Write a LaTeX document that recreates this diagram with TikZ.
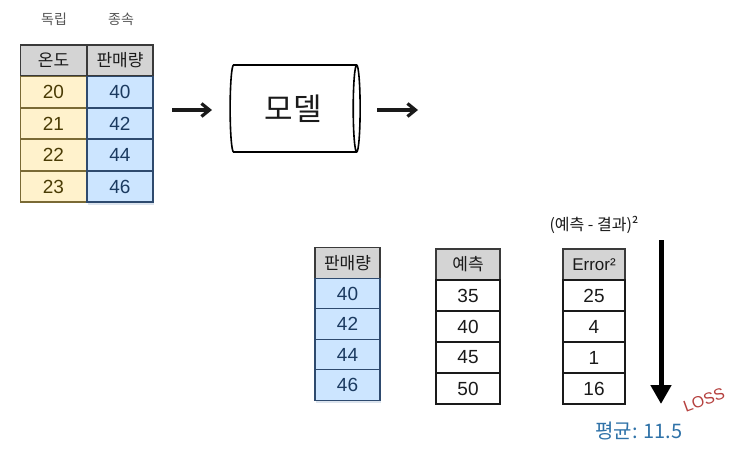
\documentclass[tikz,border=0pt]{standalone}
\usepackage{fontspec}
\setmainfont{Liberation Sans}
\newfontfamily\kr{Noto Sans CJK KR}
\usetikzlibrary{arrows.meta,shapes.geometric}
\definecolor{ink}{HTML}{1A1A1A}
\definecolor{hdrgray}{HTML}{D4D4D4}
\definecolor{hdrline}{HTML}{3A3A3A}
\definecolor{indepfill}{HTML}{FFF2CC}
\definecolor{indepline}{HTML}{7A6A35}
\definecolor{indeptext}{HTML}{4A3C05}
\definecolor{depfill}{HTML}{CCE5FF}
\definecolor{depline}{HTML}{2E4A6E}
\definecolor{deptext}{HTML}{1B3A60}
\definecolor{shadow}{HTML}{DCE4EE}
\definecolor{meanblue}{HTML}{2F72A8}
\definecolor{lossred}{HTML}{B5403E}
\definecolor{capgray}{HTML}{555555}
\tikzset{
  every node/.style={text=ink},
  cell/.style={draw=ink, line width=1.2pt, minimum width=66pt, minimum height=31pt,
               inner sep=0pt, font=\fontsize{19}{21}\selectfont},
  hdr/.style={cell, draw=hdrline, fill=hdrgray, font=\kr\fontsize{17}{19}\selectfont},
  ycell/.style={cell, fill=indepfill, draw=indepline, text=indeptext},
  bcell/.style={cell, fill=depfill, draw=depline, text=deptext},
  wcell/.style={cell, fill=white},
  colcap/.style={font=\kr\fontsize{14}{16}\selectfont, text=capgray},
  arr/.style={-{Straight Barb[length=8pt, width=13pt]}, line width=3.2pt, draw=ink},
  bigarr/.style={-{Triangle[length=19pt, width=20pt]}, line width=5pt, draw=black},
}

\begin{document}
\begin{tikzpicture}[x=1pt, y=-1pt]
\useasboundingbox (0,0) rectangle (734,450);

% --- training data ---
\node[colcap] (indep) at (54,19) {독립};
\node[colcap] (dep) at (121,19) {종속};

\node[hdr] (temp) at (53.5,60.5) {온도};
\node[hdr] (sales) at (120,60.5) {판매량};
\node[ycell] (t1) at (53.5,92) {20};
\node[ycell] (t2) at (53.5,123.5) {21};
\node[ycell] (t3) at (53.5,155) {22};
\node[ycell] (t4) at (53.5,186.5) {23};
\fill[shadow] (88,172) rectangle (154,205);
\node[bcell] (s1) at (120,92) {40};
\node[bcell] (s2) at (120,123.5) {42};
\node[bcell] (s3) at (120,155) {44};
\node[bcell] (s4) at (120,186.5) {46};

% --- model ---
\coordinate (inA) at (172,110);
\coordinate (inB) at (212,110);
\coordinate (outA) at (377,110);
\coordinate (outB) at (418,110);
\node[cylinder, draw=black, line width=1.6pt, minimum width=87pt, minimum height=130pt,
      aspect=0.25, inner sep=0pt, font=\kr\fontsize{31}{33}\selectfont] (model) at (293,108.5) {모델};
\draw[arr] (inA) -- (inB);
\draw[arr] (outA) -- (outB);

% --- comparison ---
\fill[shadow] (316,372) rectangle (381,403);
\node[hdr, minimum width=65pt, minimum height=30.5pt] (real) at (347.5,263) {판매량};
\node[bcell, minimum width=65pt, minimum height=30.5pt] (r1) at (347.5,293.5) {40};
\node[bcell, minimum width=65pt, minimum height=30.5pt] (r2) at (347.5,324) {42};
\node[bcell, minimum width=65pt, minimum height=30.5pt] (r3) at (347.5,354.5) {44};
\node[bcell, minimum width=65pt, minimum height=30.5pt] (r4) at (347.5,385) {46};

\node[hdr, minimum width=64pt] (pred) at (468,264.5) {예측};
\node[wcell, minimum width=64pt] (p1) at (468,295.5) {35};
\node[wcell, minimum width=64pt] (p2) at (468,326.5) {40};
\node[wcell, minimum width=64pt] (p3) at (468,357.5) {45};
\node[wcell, minimum width=64pt] (p4) at (468,388.5) {50};

\node[font=\kr\fontsize{16}{18}\selectfont] (sq) at (594,225) {(예측 - 결과)²};
\node[hdr, minimum width=62pt, font=\fontsize{17}{19}\selectfont] (err) at (594,264.5) {Error²};
\node[wcell, minimum width=62pt] (e1) at (594,295.5) {25};
\node[wcell, minimum width=62pt] (e2) at (594,326.5) {4};
\node[wcell, minimum width=62pt] (e3) at (594,357.5) {1};
\node[wcell, minimum width=62pt] (e4) at (594,388.5) {16};

% --- loss ---
\coordinate (lossA) at (661,240);
\coordinate (lossB) at (661,404);
\draw[bigarr] (lossA) -- (lossB);
\node[font=\fontsize{16}{18}\selectfont, text=lossred, rotate=20, inner sep=0pt] (loss) at (704,400) {LOSS};
\node[font=\kr\fontsize{20}{22}\selectfont, text=meanblue] (mean) at (639,431) {평균: 11.5};

\end{tikzpicture}
\end{document}
